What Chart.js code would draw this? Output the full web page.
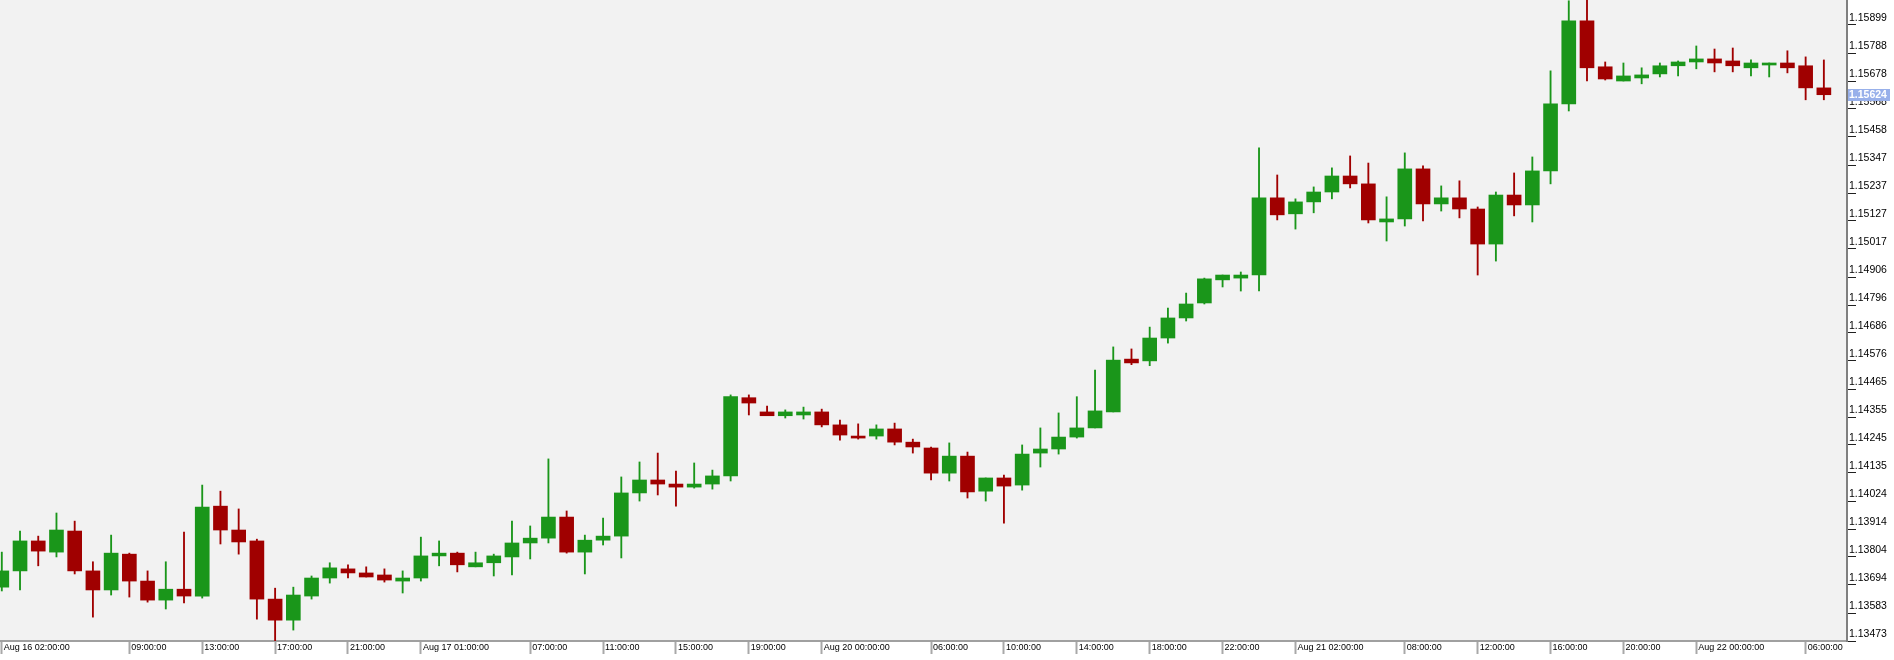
<!DOCTYPE html>
<html>
<head>
<meta charset="utf-8">
<script src="https://cdn.jsdelivr.net/npm/chart.js@4"></script>
<style>
  html, body { margin: 0; padding: 0; background: #fff; }
  canvas { display: block; }
</style>
</head>
<body>
<canvas id="chart" width="1894" height="660"></canvas>
<script>
// hourly candles, Aug 16 02:00 -> Aug 22 07:00
const opens = [
  1.13685, 1.13749, 1.13867, 1.13823, 1.13906, 1.13749, 1.13674, 1.13815, 1.13709, 1.13634,
  1.13677, 1.13650, 1.14004, 1.13910, 1.13867, 1.13638, 1.13555, 1.13650, 1.13721, 1.13757,
  1.13741, 1.13733, 1.13709, 1.13721, 1.13808, 1.13819, 1.13765, 1.13781, 1.13804, 1.13859,
  1.13878, 1.13961, 1.13823, 1.13870, 1.13886, 1.14056, 1.14107, 1.14091, 1.14079, 1.14091,
  1.14123, 1.14431, 1.14375, 1.14360, 1.14363, 1.14375, 1.14324, 1.14280, 1.14280, 1.14308,
  1.14256, 1.14233, 1.14134, 1.14201, 1.14063, 1.14115, 1.14087, 1.14213, 1.14229, 1.14276,
  1.14312, 1.14375, 1.14583, 1.14576, 1.14666, 1.14745, 1.14804, 1.14895, 1.14902, 1.14914,
  1.15218, 1.15155, 1.15202, 1.15241, 1.15304, 1.15273, 1.15123, 1.15135, 1.15332, 1.15194,
  1.15218, 1.15174, 1.15036, 1.15229, 1.15190, 1.15324, 1.15588, 1.15915, 1.15734, 1.15678,
  1.15690, 1.15706, 1.15738, 1.15753, 1.15765, 1.15757, 1.15730, 1.15741, 1.15749, 1.15738,
  1.15651
];
const highs = [
  1.13823, 1.13906, 1.13886, 1.13977, 1.13945, 1.13785, 1.13890, 1.13819, 1.13749, 1.13785,
  1.13902, 1.14087, 1.14063, 1.13993, 1.13874, 1.13681, 1.13685, 1.13729, 1.13781, 1.13773,
  1.13765, 1.13757, 1.13749, 1.13882, 1.13867, 1.13823, 1.13823, 1.13815, 1.13945, 1.13926,
  1.14190, 1.13985, 1.13890, 1.13957, 1.14119, 1.14178, 1.14213, 1.14142, 1.14174, 1.14146,
  1.14442, 1.14442, 1.14398, 1.14383, 1.14394, 1.14386, 1.14343, 1.14328, 1.14324, 1.14331,
  1.14268, 1.14237, 1.14253, 1.14217, 1.14115, 1.14126, 1.14245, 1.14312, 1.14371, 1.14435,
  1.14540, 1.14631, 1.14623, 1.14709, 1.14784, 1.14843, 1.14902, 1.14914, 1.14926, 1.15415,
  1.15308, 1.15214, 1.15261, 1.15336, 1.15383, 1.15355, 1.15222, 1.15395, 1.15344, 1.15265,
  1.15285, 1.15182, 1.15241, 1.15316, 1.15379, 1.15718, 1.15994, 1.16000, 1.15753, 1.15749,
  1.15730, 1.15749, 1.15757, 1.15816, 1.15804, 1.15808, 1.15761, 1.15749, 1.15797, 1.15773,
  1.15761
];
const lows = [
  1.13670, 1.13674, 1.13769, 1.13804, 1.13737, 1.13567, 1.13654, 1.13646, 1.13626, 1.13599,
  1.13623, 1.13642, 1.13855, 1.13815, 1.13559, 1.13468, 1.13516, 1.13638, 1.13701, 1.13721,
  1.13725, 1.13705, 1.13662, 1.13709, 1.13769, 1.13745, 1.13765, 1.13729, 1.13733, 1.13796,
  1.13859, 1.13819, 1.13737, 1.13851, 1.13800, 1.14024, 1.14048, 1.14004, 1.14075, 1.14071,
  1.14103, 1.14363, 1.14360, 1.14351, 1.14347, 1.14316, 1.14264, 1.14268, 1.14268, 1.14245,
  1.14213, 1.14107, 1.14103, 1.14036, 1.14024, 1.13937, 1.14067, 1.14158, 1.14209, 1.14272,
  1.14312, 1.14375, 1.14561, 1.14557, 1.14646, 1.14733, 1.14800, 1.14867, 1.14851, 1.14851,
  1.15131, 1.15095, 1.15159, 1.15214, 1.15257, 1.15119, 1.15048, 1.15107, 1.15127, 1.15166,
  1.15139, 1.14914, 1.14969, 1.15147, 1.15123, 1.15273, 1.15560, 1.15678, 1.15682, 1.15678,
  1.15667, 1.15694, 1.15698, 1.15726, 1.15714, 1.15714, 1.15698, 1.15694, 1.15710, 1.15604,
  1.15604
];
const closes = [
  1.13749, 1.13867, 1.13827, 1.13910, 1.13749, 1.13674, 1.13819, 1.13709, 1.13634, 1.13677,
  1.13650, 1.14000, 1.13910, 1.13863, 1.13638, 1.13555, 1.13654, 1.13721, 1.13761, 1.13741,
  1.13725, 1.13713, 1.13721, 1.13808, 1.13819, 1.13773, 1.13781, 1.13808, 1.13859, 1.13878,
  1.13961, 1.13823, 1.13870, 1.13886, 1.14056, 1.14107, 1.14091, 1.14079, 1.14091, 1.14123,
  1.14435, 1.14410, 1.14360, 1.14375, 1.14375, 1.14324, 1.14284, 1.14272, 1.14308, 1.14256,
  1.14237, 1.14134, 1.14201, 1.14060, 1.14115, 1.14083, 1.14209, 1.14229, 1.14276, 1.14312,
  1.14379, 1.14579, 1.14568, 1.14666, 1.14745, 1.14800, 1.14899, 1.14914, 1.14914, 1.15218,
  1.15151, 1.15202, 1.15241, 1.15304, 1.15273, 1.15131, 1.15135, 1.15332, 1.15194, 1.15218,
  1.15174, 1.15036, 1.15229, 1.15190, 1.15324, 1.15588, 1.15915, 1.15730, 1.15686, 1.15698,
  1.15702, 1.15738, 1.15753, 1.15765, 1.15749, 1.15738, 1.15749, 1.15749, 1.15730, 1.15651,
  1.15624
];

// time axis labels, by candle index
const tickIdx = [0, 7, 11, 15, 19, 23, 29, 33, 37, 41, 45, 51, 55, 59, 63, 67, 71, 77, 81, 85, 89, 93, 99];
const tickLabels = [
  'Aug 16 02:00:00', '09:00:00', '13:00:00', '17:00:00', '21:00:00',
  'Aug 17 01:00:00', '07:00:00', '11:00:00', '15:00:00', '19:00:00',
  'Aug 20 00:00:00', '06:00:00', '10:00:00', '14:00:00', '18:00:00', '22:00:00',
  'Aug 21 02:00:00', '08:00:00', '12:00:00', '16:00:00', '20:00:00',
  'Aug 22 00:00:00', '06:00:00'
];

const priceTicks = [
  1.13473, 1.13583, 1.13694, 1.13804, 1.13914, 1.14024, 1.14135, 1.14245,
  1.14355, 1.14465, 1.14576, 1.14686, 1.14796, 1.14906, 1.15017, 1.15127,
  1.15237, 1.15347, 1.15458, 1.15568, 1.15678, 1.15788, 1.15899
];

const UP = '#1a961a';
const DOWN = '#a00000';

const colors = closes.map((c, i) => (c >= opens[i] ? UP : DOWN));

const background = {
  id: 'background',
  beforeDraw(chart) {
    const { ctx, chartArea } = chart;
    ctx.save();
    ctx.fillStyle = '#ffffff';
    ctx.fillRect(0, 0, chart.width, chart.height);
    ctx.fillStyle = '#f2f2f2';
    ctx.fillRect(chartArea.left, chartArea.top, chartArea.right - chartArea.left, chartArea.bottom - chartArea.top);
    ctx.restore();
  },
};

// current price tag on the price axis
const lastPrice = {
  id: 'lastPrice',
  afterDraw(chart) {
    const { ctx } = chart;
    const y = chart.scales.y.getPixelForValue(closes[closes.length - 1]);
    const x = chart.chartArea.right + 1;
    ctx.save();
    ctx.fillStyle = '#98b0ea';
    ctx.fillRect(x, Math.round(y) - 6, 42, 12);
    ctx.fillStyle = '#ffffff';
    ctx.font = 'bold 10.5px "Liberation Sans"';
    ctx.textBaseline = 'middle';
    ctx.fillText(closes[closes.length - 1].toFixed(5), x + 1, Math.round(y));
    ctx.restore();
  },
};

Chart.defaults.font.family = '"Liberation Sans", Arial, sans-serif';
Chart.defaults.color = '#000';

new Chart(document.getElementById('chart'), {
  type: 'bar',
  data: {
    datasets: [
      {
        label: 'body',
        data: opens.map((o, i) => ({ x: i, y: [o, closes[i]] })),
        backgroundColor: colors,
        borderWidth: 0,
        barThickness: 14,
        minBarLength: 2,
        grouped: false,
        order: 1,
      },
      {
        label: 'wick',
        data: lows.map((l, i) => ({ x: i, y: [l, highs[i]] })),
        backgroundColor: colors,
        borderWidth: 0,
        barThickness: 1.2,
        grouped: false,
        order: 2,
      },
    ],
  },
  options: {
    responsive: false,
    animation: false,
    layout: { padding: 0 },
    plugins: {
      legend: { display: false },
      tooltip: { enabled: false },
    },
    scales: {
      x: {
        type: 'linear',
        position: 'bottom',
        offset: false,
        min: -0.099,
        max: 101.27,
        afterBuildTicks: (s) => {
          s.ticks = tickIdx.map((v) => ({ value: v }));
        },
        afterFit: (s) => {
          s.height = 19;
          s.paddingLeft = 0;
          s.paddingRight = 0;
        },
        ticks: {
          autoSkip: false,
          maxRotation: 0,
          minRotation: 0,
          align: 'start',
          padding: -12,
          labelOffset: 2,
          font: { size: 9 },
          callback: (v) => {
            const k = tickIdx.indexOf(v);
            return k >= 0 ? tickLabels[k] : '';
          },
        },
        grid: {
          offset: false,
          drawOnChartArea: false,
          tickLength: 13,
          tickColor: '#a8a8a8',
          tickWidth: 2,
        },
        border: { color: '#a0a0a0', width: 2 },
      },
      y: {
        type: 'linear',
        position: 'right',
        min: 1.13473,
        max: 1.15997,
        afterBuildTicks: (s) => {
          s.ticks = priceTicks.map((v) => ({ value: v }));
        },
        afterFit: (s) => {
          s.width = 47;
          s.paddingTop = 0;
          s.paddingBottom = 0;
        },
        ticks: {
          autoSkip: false,
          padding: -7,
          labelOffset: -7,
          crossAlign: 'near',
          font: { size: 10.5 },
          callback: (v) => Number(v).toFixed(5),
        },
        grid: {
          drawOnChartArea: false,
          tickLength: 9,
          tickColor: '#202020',
          tickWidth: 1,
        },
        border: { color: '#808080', width: 2 },
      },
    },
  },
  plugins: [background, lastPrice],
});
</script>
</body>
</html>
